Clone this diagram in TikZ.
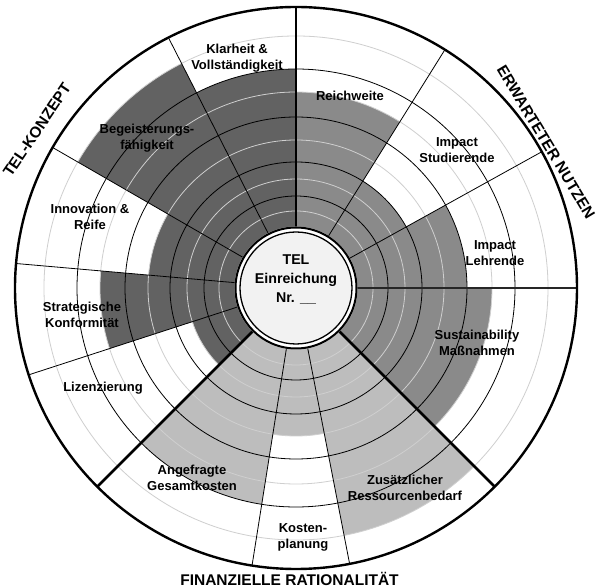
\documentclass[tikz,border=0pt]{standalone}
\usepackage{fontspec}
\setmainfont{Liberation Sans}
\definecolor{darkfill}{HTML}{626262}
\definecolor{medfill}{HTML}{8A8A8A}
\definecolor{lightfill}{HTML}{BDBDBD}
\definecolor{halfcol}{HTML}{CFCFCF}
\definecolor{centerfill}{HTML}{F2F2F2}
\begin{document}
\begin{tikzpicture}[x=1pt,y=1pt,
  lbl/.style={font=\fontsize{13}{16}\selectfont\bfseries, align=center, inner sep=0pt},
  ctr/.style={font=\fontsize{14.2}{19}\selectfont\bfseries, align=center, inner sep=0pt},
  grp/.style={font=\fontsize{15.5}{18}\selectfont\bfseries, inner sep=0pt},
  spokeline/.style={line width=0.8pt, black},
  bigspoke/.style={line width=2.6pt, black},
  ringline/.style={line width=0.8pt, black},
  halfring/.style={line width=0.8pt, halfcol}]
\useasboundingbox (-296,-300) rectangle (304,288);
\fill[white] (-296,-300) rectangle (304,288);
\fill[white] (0,0) circle[radius=281];
% shaded wedges
\foreach \a/\b/\r/\c in {
  90/117/219/darkfill, 117/150/252/darkfill, 150/175/148/darkfill,
  175/198/196/darkfill, 198/225/109/darkfill,
  225/261/219/lightfill, 261/281/148/lightfill, 281/315/252/lightfill,
  315/360/196/medfill, 0/29/171/medfill, 29/58/126/medfill, 58/90/196/medfill} {
  \fill[\c] (0,0) -- (\a:\r) arc[start angle=\a, end angle=\b, radius=\r] -- cycle;
}
% rings
\foreach \r in {77,109,148,196,252} \draw[halfring] (0,0) circle[radius=\r];
\foreach \r in {92,126,171,219} \draw[ringline] (0,0) circle[radius=\r];
% spokes
\foreach \a in {117,150,175,198,261,281,29,58} \draw[spokeline] (\a:60) -- (\a:281);
\draw[line width=1.3pt, black!85] (0:60) -- (0:281);
\foreach \a in {90,225,315} \draw[bigspoke] (\a:60) -- (\a:281);
% outer circle
\draw[line width=2.4pt] (0,0) circle[radius=281];
% center
\fill[white] (0,0) circle[radius=61.5];
\draw[line width=2pt] (0,0) circle[radius=60.5];
\fill[centerfill] (0,0) circle[radius=55.5];
\draw[line width=1.3pt] (0,0) circle[radius=56];
\node[ctr] (center) at (0,9) {TEL\\Einreichung\\Nr. \_\_};
% sector labels
\node[lbl] (klar) at (-59,230) {Klarheit \&\\Vollständigkeit};
\node[lbl] (begeist) at (-149,150) {Begeisterungs-\\fähigkeit};
\node[lbl] (innov) at (-206,71) {Innovation \&\\Reife};
\node[lbl] (strat) at (-214,-27) {Strategische\\Konformität};
\node[lbl] (lizenz) at (-193,-100) {Lizenzierung};
\node[lbl] (angef) at (-104,-190) {Angefragte\\Gesamtkosten};
\node[lbl] (kosten) at (7,-249) {Kosten-\\planung};
\node[lbl] (zusatz) at (109,-200) {Zusätzlicher\\Ressourcenbedarf};
\node[lbl] (sustain) at (181,-55) {Sustainability\\Maßnahmen};
\node[lbl] (lehr) at (199,35) {Impact\\Lehrende};
\node[lbl] (stud) at (161,138) {Impact\\Studierende};
\node[lbl] (reich) at (54,192) {Reichweite};
% group labels
\node[grp, rotate=56] (telk) at (-259,158) {TEL-KONZEPT};
\node[grp, rotate=-59] (erw) at (250,146) {ERWARTETER NUTZEN};
\node[grp, anchor=base] (fin) at (-6.5,-297.5) {FINANZIELLE RATIONALITÄT};
\end{tikzpicture}
\end{document}
